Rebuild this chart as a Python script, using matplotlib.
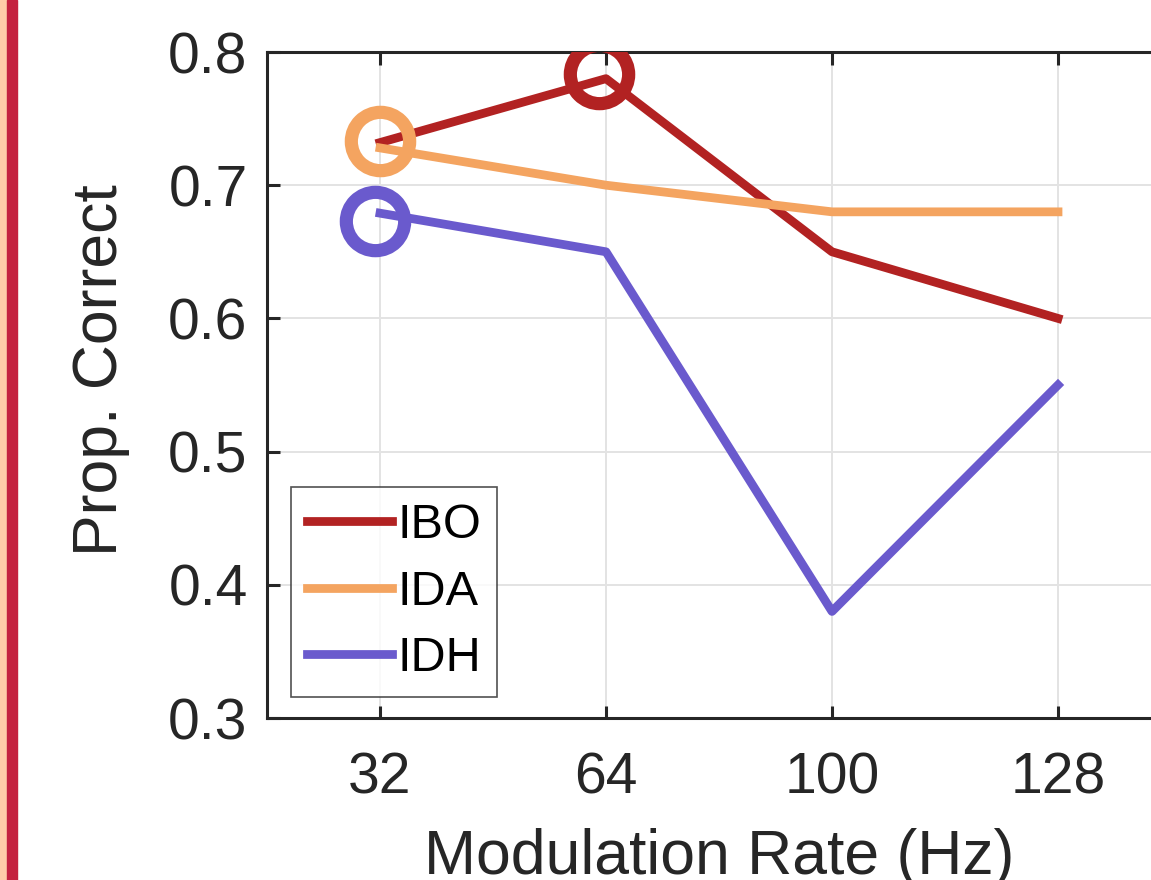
import matplotlib
matplotlib.use("Agg")
import matplotlib.pyplot as plt
from matplotlib.patches import Rectangle

# data
rates = ["32", "64", "100", "128"]
ibo = [0.732, 0.780, 0.650, 0.600]
ida = [0.728, 0.700, 0.680, 0.680]
idh = [0.679, 0.650, 0.380, 0.550]

# open-circle highlights (x in category positions, y in Prop. Correct)
ibo_mark = (1.97, 0.7835)
ida_mark = (1.0, 0.733)
idh_mark = (0.98, 0.673)

colors = {"IBO": "#B22222", "IDA": "#F4A460", "IDH": "#6A5ACD"}

plt.rcParams["font.family"] = ["Liberation Sans", "DejaVu Sans"]
txt = "#262626"

fig = plt.figure(figsize=(11.51, 8.8), dpi=100)
W, H = 1151, 880

# decorative strip on the left edge
fig.patches.append(Rectangle((0, 0), 7 / W, 1, transform=fig.transFigure,
                             color="#FFCBA8", zorder=0))
fig.patches.append(Rectangle((7.5 / W, 0), 9.5 / W, 1, transform=fig.transFigure,
                             color="#C4213F", zorder=0))

ax = fig.add_axes([267 / W, 1 - 718 / H, (1171 - 267) / W, (718 - 52) / H])

x = list(range(1, len(rates) + 1))
lw = 6.3
ax.plot(x, ibo, color=colors["IBO"], lw=lw, label="IBO", zorder=3)
ax.plot(x, ida, color=colors["IDA"], lw=lw, label="IDA", zorder=3)
ax.plot(x, idh, color=colors["IDH"], lw=lw, label="IDH", zorder=3)

for name, (mx, my) in [("IBO", ibo_mark), ("IDA", ida_mark), ("IDH", idh_mark)]:
    ax.plot([mx], [my], marker="o", ms=42, mfc="none", mec=colors[name],
            mew=9.5, ls="none", zorder=4)

ax.set_xlim(0.5, 4.5)
ax.set_ylim(0.3, 0.8)
ax.set_xticks(x)
ax.set_xticklabels(rates)
ax.set_yticks([0.3, 0.4, 0.5, 0.6, 0.7, 0.8])
ax.set_yticklabels(["0.3", "0.4", "0.5", "0.6", "0.7", "0.8"])

ax.grid(True, color="#e3e3e3", lw=1.4, zorder=0)
ax.set_axisbelow(True)

for s in ["left", "bottom", "top"]:
    ax.spines[s].set_color(txt)
    ax.spines[s].set_linewidth(2.2)
ax.spines["right"].set_visible(False)

ax.tick_params(axis="both", direction="in", length=9, width=2.2, color=txt,
               labelcolor=txt, labelsize=41, top=True)
ax.tick_params(axis="x", pad=24)
ax.tick_params(axis="y", pad=14)

ax.set_xlabel("Modulation Rate (Hz)", fontsize=45, color=txt, labelpad=16)
ax.set_ylabel("Prop. Correct", fontsize=45, color=txt)
ax.yaxis.set_label_coords(-0.152, 0.5225)

leg = ax.legend(loc="lower left", bbox_to_anchor=(0.0265, 0.0315),
                borderaxespad=0, fontsize=35, frameon=True, fancybox=False,
                handlelength=1.75, handletextpad=0.12, borderpad=0.32,
                labelspacing=0.45)
leg.get_frame().set_edgecolor("#262626")
leg.get_frame().set_linewidth(1.2)
for h in leg.get_lines():
    h.set_linewidth(6.3)

fig.savefig("out.png", dpi=100)
